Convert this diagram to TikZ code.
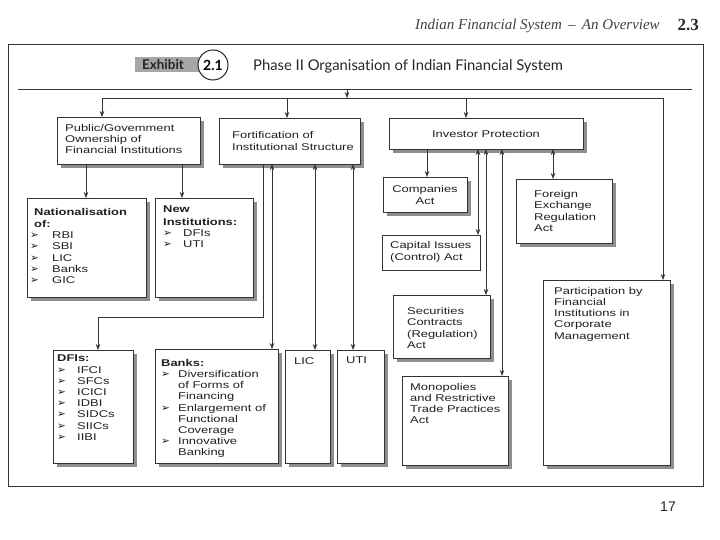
\documentclass[tikz,border=0pt]{standalone}
\usepackage{fontspec}
\usetikzlibrary{arrows.meta}
\setmainfont{Liberation Sans}
\newfontfamily\bxf[FakeStretch=1.32]{Liberation Sans}
\newfontfamily\dvs{DejaVu Sans}
\newfontfamily\ttlf[Ligatures=NoCommon]{Lato}
\newfontfamily\hdrf{Liberation Serif}
\definecolor{linec}{HTML}{333333}
\definecolor{textc}{HTML}{202020}
\definecolor{shadc}{HTML}{8E8E8E}
\newcommand\blt[1]{\makebox[#1][l]{\dvs\fontsize{10.5}{10}\selectfont ➢}}
\newcommand\mkbox[5]{%
  \fill[shadc] (#2+4,#3+4) rectangle (#4+4,#5+4);
  \node[ibox, anchor=north west, minimum width={(#4-#2)*1pt}, minimum height={(#5-#3)*1pt}] (#1) at (#2,#3) {};}
\newcommand\mkboxns[5]{%
  \node[ibox, anchor=north west, minimum width={(#4-#2)*1pt}, minimum height={(#5-#3)*1pt}] (#1) at (#2,#3) {};}
\begin{document}
\begin{tikzpicture}[x=1pt,y=-1pt,
  ibox/.style={draw=linec, fill=white, line width=0.8pt, inner sep=0pt, outer sep=0pt},
  txt/.style={inner sep=0pt, align=left, text=textc, font=\bxf\fontsize{9.8}{11.2}\selectfont},
  conn/.style={draw=linec, line width=0.7pt},
  arr/.style={conn, -{Stealth[length=6pt,width=4.5pt]}},
  darr/.style={conn, {Stealth[length=6pt,width=4.5pt]}-{Stealth[length=6pt,width=4.5pt]}}]
\useasboundingbox (0,0) rectangle (720,540);
% header
\node[anchor=base west, inner sep=0pt, font=\hdrf\itshape\fontsize{15}{15}\selectfont, text=black!75] (hdr) at (415,30) {Indian Financial System \,–\, An Overview};
\node[anchor=base east, inner sep=0pt, font=\hdrf\bfseries\fontsize{17}{17}\selectfont, text=black!85] (pg) at (699,31) {2.3};
% frame
\coordinate (f1) at (8,44);
\coordinate (f2) at (703,486);
\draw[linec, line width=0.8pt] (f1) rectangle (f2);
% exhibit title
\node[fill=black!35, inner sep=0pt, minimum width=64pt, minimum height=15pt, font=\ttlf\bfseries\fontsize{13.5}{13.5}\selectfont, text=black!85] (exh) at (167,65) {Exhibit\hspace*{8pt}};
\node[circle, draw=black!85, fill=white, line width=1pt, minimum size=30pt, inner sep=0pt, font=\ttlf\bfseries\fontsize{14}{14}\selectfont] (num) at (213,65) {2.1};
\node[anchor=west, inner sep=0pt, font=\ttlf\fontsize{14.8}{14.8}\selectfont, text=black!85] (ttl) at (253,66) {Phase II Organisation of Indian Financial System};
\coordinate (tl) at (18,89);
\coordinate (tr) at (692,89);
\draw[linec, line width=0.8pt] (tl) -- (tr);
\coordinate (tA) at (347,89);
\coordinate (tB) at (347,98);
\coordinate (bL) at (102,98);
\coordinate (bF) at (287,98);
\coordinate (bI) at (466,98);
\coordinate (bR) at (663,98);
% boxes
\mkbox{pub}{57}{117}{200}{164}
\mkbox{fort}{219}{118}{360}{164}
\mkbox{inv}{389}{118}{583}{149}
\mkbox{nat}{27}{198}{146}{297}
\mkbox{new}{155}{198}{253}{297}
\mkbox{comp}{383}{177}{467}{212}
\mkbox{forex}{516}{179}{612}{243}
\mkboxns{cap}{382}{235}{480}{270}
\mkbox{sec}{393}{295}{490}{358}
\mkbox{part}{543}{280}{670}{465}
\mkbox{mono}{402}{376}{508}{465}
\mkbox{dfi}{53}{350}{133}{463}
\mkbox{banks}{155}{349}{278}{463}
\mkbox{lic}{285}{350}{330}{463}
\mkbox{uti}{337}{350}{384}{463}
% texts
\node[txt, anchor=north west] (pubt) at (65,124) {Public/Govemment\\Ownership of\\Financial Institutions};
\node[txt, anchor=west] (fortt) at (232,141) {Fortification of\\Institutional Structure};
\node[txt, anchor=center] (invt) at (486,134) {Investor Protection};
\node[txt, anchor=north west] (natt) at (30,208) {\hspace*{4pt}\textbf{Nationalisation}\\[1pt]\hspace*{4pt}\textbf{of:}\\\blt{22pt}RBI\\\blt{22pt}SBI\\\blt{22pt}LIC\\\blt{22pt}Banks\\\blt{22pt}GIC};
\node[txt, anchor=north west] (newt) at (163,206) {\textbf{New}\\[1pt]\textbf{Institutions:}\\\blt{20pt}DFIs\\\blt{20pt}UTI};
\node[txt, anchor=center, align=center] (compt) at (425,195) {Companies\\Act};
\node[txt, anchor=west] (forext) at (534,211) {Foreign\\Exchange\\Regulation\\Act};
\node[txt, anchor=west] (capt) at (390,252) {Capital Issues\\(Control) Act};
\node[txt, anchor=west] (sect) at (407,328) {Securities\\Contracts\\(Regulation)\\Act};
\node[txt, anchor=north west] (partt) at (554,287) {Participation by\\Financial\\Institutions in\\Corporate\\Management};
\node[txt, anchor=north west] (monot) at (410,383) {Monopolies\\and Restrictive\\Trade Practices\\Act};
\node[txt, anchor=north west] (dfit) at (57,355) {\textbf{DFIs:}\\\blt{20pt}IFCI\\\blt{20pt}SFCs\\\blt{20pt}ICICI\\\blt{20pt}IDBI\\\blt{20pt}SIDCs\\\blt{20pt}SIICs\\\blt{20pt}IIBI};
\node[txt, anchor=north west] (bankst) at (161,359) {\textbf{Banks:}\\\blt{17pt}Diversification\\\hspace*{17pt}of Forms of\\\hspace*{17pt}Financing\\\blt{17pt}Enlargement of\\\hspace*{17pt}Functional\\\hspace*{17pt}Coverage\\\blt{17pt}Innovative\\\hspace*{17pt}Banking};
\node[txt, anchor=north west] (lict) at (294,357) {LIC};
\node[txt, anchor=north west] (utit) at (346,357) {UTI};
% connectors
\draw[arr] (tA) -- (tB);
\draw[conn] (bL) -- (bR);
\draw[arr] (bL) -- (bL |- pub.north);
\draw[arr] (bF) -- (bF |- fort.north);
\draw[arr] (bI) -- (bI |- inv.north);
\draw[arr] (bR) -- (bR |- part.north);
\draw[arr] (86,0 |- pub.south) -- (86,0 |- nat.north);
\draw[arr] (182,0 |- pub.south) -- (182,0 |- new.north);
\coordinate (dk1) at (263,317);
\coordinate (dk2) at (98,317);
\draw[arr] (dk1 |- fort.south) -- (dk1) -- (dk2) -- (dk2 |- dfi.north);
\draw[darr] (272,0 |- fort.south) -- (272,0 |- banks.north);
\draw[darr] (315,0 |- fort.south) -- (315,0 |- lic.north);
\draw[darr] (353,0 |- fort.south) -- (353,0 |- uti.north);
\draw[arr] (427,0 |- inv.south) -- (427,0 |- comp.north);
\draw[darr] (478,0 |- inv.south) -- (478,0 |- cap.north);
\draw[darr] (486,0 |- inv.south) -- (486,0 |- sec.north);
\draw[darr] (502,0 |- inv.south) -- (502,0 |- mono.north);
\draw[darr] (553,0 |- inv.south) -- (553,0 |- forex.north);
% page number
\node[inner sep=0pt, font=\fontsize{14}{14}\selectfont, text=black!85] (pn) at (668,507) {17};
\end{tikzpicture}
\end{document}
